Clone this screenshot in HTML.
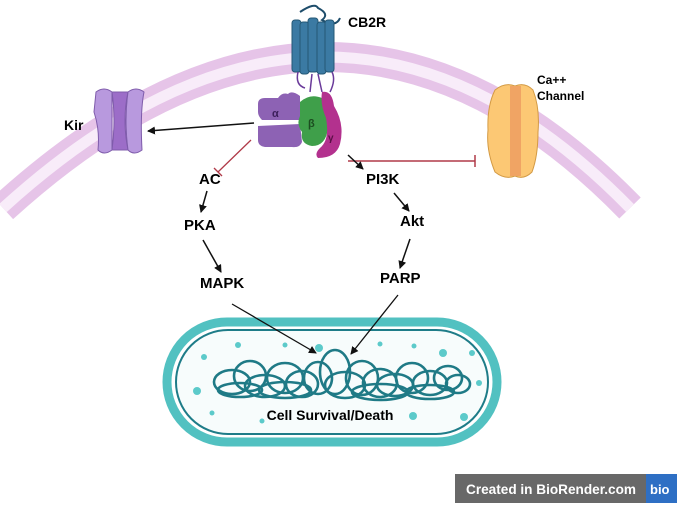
<!DOCTYPE html>
<html><head><meta charset="utf-8"><style>
html,body{margin:0;padding:0;background:#fff;}
svg{display:block;}
text{font-family:"Liberation Sans",sans-serif;font-weight:bold;}
</style></head><body>
<svg width="677" height="505" viewBox="0 0 677 505" xmlns="http://www.w3.org/2000/svg">
<defs>
<marker id="ar" markerWidth="8" markerHeight="8" refX="7" refY="4" orient="auto" markerUnits="userSpaceOnUse"><path d="M0,0 L8,4 L0,8 Z" fill="#111"/></marker>
</defs>
<!-- membrane -->
<path d="M 3 208 Q 335 -94 630 208" fill="none" stroke="#e6c4e8" stroke-width="30"/>
<path d="M 3 208 Q 335 -94 630 208" fill="none" stroke="#f8ecf9" stroke-width="11"/>
<!-- CB2R -->
<path d="M300 12 Q315 2 318 8 Q330 14 322 20 Q336 28 340 18" fill="none" stroke="#1e4d6b" stroke-width="2"/>
<g fill="#3b7aa3" stroke="#245876" stroke-width="1">
<rect x="292" y="20" width="9" height="52" rx="3"/>
<rect x="300" y="22" width="9" height="52" rx="3"/>
<rect x="308" y="18" width="10" height="54" rx="3"/>
<rect x="317" y="22" width="9" height="52" rx="3"/>
<rect x="325" y="20" width="9" height="52" rx="3"/>
</g>
<path d="M298 72 Q295 85 305 88 M312 74 L310 92 M318 74 L322 92 M332 72 Q336 80 330 92" fill="none" stroke="#6a3a9a" stroke-width="1.5"/>
<!-- G protein -->
<path d="M258 104 Q258 98 265 98 L278 98 Q282 92 288 94 Q292 90 300 96 L300 120 L262 120 Q258 116 258 112 Z" fill="#8d62b4"/>
<path d="M258 126 L300 124 L302 142 Q300 148 292 147 L265 147 Q258 146 258 140 Z" fill="#8d62b4"/>
<path d="M300 102 Q310 93 322 98 Q332 110 328 128 Q326 146 312 146 Q300 144 302 132 Q296 124 300 116 Z" fill="#3f9f4a"/>
<path d="M322 92 Q332 90 334 106 Q345 124 340 144 Q336 158 318 158 Q314 154 320 148 Q330 140 326 118 Q320 104 322 92 Z" fill="#b3318e"/>
<text x="272" y="117" font-size="11" fill="#3d1f5c" font-weight="normal">α</text>
<text x="308" y="127" font-size="11" fill="#1c4d20" font-weight="normal">β</text>
<text x="328" y="141" font-size="10" fill="#5a0f45" font-weight="normal">γ</text>
<text x="348" y="27" font-size="14">CB2R</text>
<!-- Kir -->
<path d="M96 92 Q104 86 112 92 L112 150 Q104 156 98 150 Q100 130 94 112 Z" fill="#b899de" stroke="#7f5cab" stroke-width="1"/>
<path d="M112 92 L128 92 Q122 120 128 150 L112 150 Q116 120 112 92 Z" fill="#9c6dc8" stroke="#7f5cab" stroke-width="1"/>
<path d="M128 92 Q136 86 144 92 Q140 112 142 150 Q134 156 128 150 Q124 120 128 92 Z" fill="#b899de" stroke="#7f5cab" stroke-width="1"/>
<text x="64" y="130" font-size="14">Kir</text>
<!-- Ca channel -->
<path d="M495 90 Q505 82 515 86 L515 176 Q505 180 495 172 Q486 150 488 130 Q487 106 495 90 Z" fill="#fcc874" stroke="#d39a44" stroke-width="1"/>
<path d="M515 86 Q525 82 533 90 Q540 108 538 132 Q538 156 532 172 Q524 180 515 176 Z" fill="#fcc874" stroke="#d39a44" stroke-width="1"/>
<rect x="510" y="86" width="11" height="90" fill="#f0a464"/>
<text x="537" y="84" font-size="12">Ca++</text>
<text x="537" y="100" font-size="12">Channel</text>
<!-- connectors -->
<line x1="254" y1="123" x2="148" y2="131" stroke="#111" stroke-width="1.5" marker-end="url(#ar)"/>
<line x1="348" y1="161" x2="475" y2="161" stroke="#b03a48" stroke-width="1.5"/>
<line x1="475" y1="155" x2="475" y2="167" stroke="#b03a48" stroke-width="1.5"/>
<line x1="251" y1="140" x2="218" y2="172" stroke="#b03a48" stroke-width="1.3"/>
<line x1="214" y1="168" x2="222" y2="176" stroke="#b03a48" stroke-width="1.3"/>
<line x1="348" y1="155" x2="363" y2="169" stroke="#111" stroke-width="1.5" marker-end="url(#ar)"/>
<line x1="207" y1="191" x2="201" y2="212" stroke="#111" stroke-width="1.5" marker-end="url(#ar)"/>
<line x1="203" y1="240" x2="221" y2="272" stroke="#111" stroke-width="1.5" marker-end="url(#ar)"/>
<line x1="394" y1="193" x2="409" y2="211" stroke="#111" stroke-width="1.5" marker-end="url(#ar)"/>
<line x1="410" y1="239" x2="400" y2="268" stroke="#111" stroke-width="1.5" marker-end="url(#ar)"/>
<text x="199" y="184" font-size="15">AC</text>
<text x="184" y="230" font-size="15">PKA</text>
<text x="200" y="288" font-size="15">MAPK</text>
<text x="366" y="184" font-size="15">PI3K</text>
<text x="400" y="226" font-size="15">Akt</text>
<text x="380" y="283" font-size="15">PARP</text>
<!-- nucleus -->
<rect x="167" y="322" width="330" height="120" rx="60" fill="#fff" stroke="#52c1c1" stroke-width="9"/>
<rect x="176" y="330" width="312" height="104" rx="52" fill="#f7fcfc" stroke="#1e7c88" stroke-width="2"/>
<g fill="#5ccaca">
<circle cx="238" cy="345" r="3"/><circle cx="285" cy="345" r="2.5"/><circle cx="319" cy="348" r="4"/><circle cx="380" cy="344" r="2.5"/><circle cx="414" cy="346" r="2.5"/><circle cx="443" cy="353" r="4"/><circle cx="472" cy="353" r="3"/><circle cx="204" cy="357" r="3"/><circle cx="197" cy="391" r="4"/><circle cx="479" cy="383" r="3"/><circle cx="212" cy="413" r="2.5"/><circle cx="413" cy="416" r="4"/><circle cx="464" cy="417" r="4"/><circle cx="262" cy="421" r="2.5"/>
</g>
<g fill="none" stroke="#1f7a86" stroke-width="2.6">
<ellipse cx="232" cy="382" rx="18" ry="12"/><ellipse cx="250" cy="376" rx="16" ry="15"/><ellipse cx="265" cy="386" rx="20" ry="11"/>
<ellipse cx="285" cy="378" rx="18" ry="15"/><ellipse cx="302" cy="384" rx="16" ry="13"/><ellipse cx="318" cy="378" rx="14" ry="16"/><ellipse cx="335" cy="372" rx="15" ry="22"/>
<ellipse cx="345" cy="385" rx="20" ry="13"/><ellipse cx="362" cy="378" rx="16" ry="17"/><ellipse cx="380" cy="383" rx="17" ry="14"/><ellipse cx="395" cy="385" rx="18" ry="11"/>
<ellipse cx="412" cy="378" rx="16" ry="15"/><ellipse cx="430" cy="383" rx="17" ry="12"/><ellipse cx="448" cy="378" rx="14" ry="12"/><ellipse cx="458" cy="384" rx="12" ry="9"/>
<ellipse cx="285" cy="390" rx="26" ry="8"/><ellipse cx="380" cy="392" rx="28" ry="8"/><ellipse cx="240" cy="390" rx="22" ry="7"/><ellipse cx="430" cy="392" rx="24" ry="7"/>
</g>
<text x="330" y="420" font-size="14" text-anchor="middle">Cell Survival/Death</text>
<line x1="232" y1="304" x2="316" y2="353" stroke="#111" stroke-width="1.3" marker-end="url(#ar)"/>
<line x1="398" y1="295" x2="351" y2="354" stroke="#111" stroke-width="1.3" marker-end="url(#ar)"/>
<!-- watermark -->
<rect x="455" y="474" width="222" height="29" fill="#686868"/>
<rect x="646" y="474" width="31" height="29" fill="#2e6fc4"/>
<text x="466" y="494" font-size="14" fill="#fff" font-weight="normal" textLength="170" lengthAdjust="spacingAndGlyphs">Created in <tspan font-weight="bold">BioRender.com</tspan></text>
<text x="650" y="494" font-size="13" fill="#fff">bio</text>
</svg>
</body></html>
